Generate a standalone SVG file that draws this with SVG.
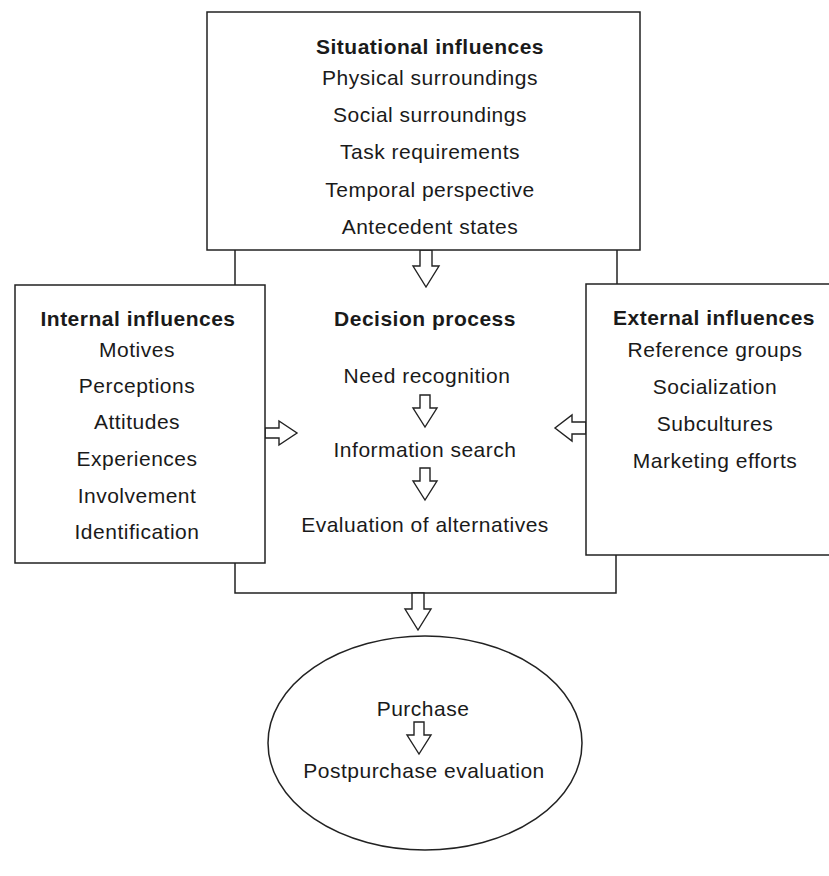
<svg xmlns="http://www.w3.org/2000/svg" width="829" height="876" viewBox="0 0 829 876">
<style>
.box{fill:#fff;stroke:#222;stroke-width:1.5}
.ln{fill:none;stroke:#222;stroke-width:1.5}
.arr{fill:#fff;stroke:#222;stroke-width:1.4;stroke-linejoin:miter}
text{font-family:"Liberation Sans",Arial,sans-serif;fill:#1a1a1a;text-anchor:middle;letter-spacing:0.5px}
.h{font-weight:bold;font-size:21px}
.t{font-size:21px}
</style>
<defs>
<path id="downArrow" d="M-6,0 L6,0 L6,16 L13,16 L0,37 L-13,16 L-6,16 Z"/>
<path id="smallDown" d="M-5,0 L5,0 L5,13 L12,13 L0,32 L-12,13 L-5,13 Z"/>
</defs>
<rect width="829" height="876" fill="#fff"/>
<g id="connectors">
<polyline class="ln" points="235,250 235,285"/>
<polyline class="ln" points="617,250 617,284"/>
<polyline class="ln" points="235,563 235,593 616,593 616,555"/>
<use href="#downArrow" x="426" y="250" class="arr"/>
<path class="arr" d="M265,428 L279,428 L279,421 L297,433 L279,445 L279,438 L265,438 Z"/>
<path class="arr" d="M586,422 L572,422 L572,415 L555,428 L572,441 L572,434 L586,434 Z"/>
<use href="#downArrow" x="418" y="593" class="arr"/>
</g>
<g id="situational">
<rect class="box" x="207" y="12" width="433" height="238"/>
<text class="h" x="430" y="54">Situational influences</text>
<text class="t" x="430" y="85">Physical surroundings</text>
<text class="t" x="430" y="122">Social surroundings</text>
<text class="t" x="430" y="159">Task requirements</text>
<text class="t" x="430" y="197">Temporal perspective</text>
<text class="t" x="430" y="234">Antecedent states</text>
</g>
<g id="internal">
<rect class="box" x="15" y="285" width="250" height="278"/>
<text class="h" x="138" y="326">Internal influences</text>
<text class="t" x="137" y="357">Motives</text>
<text class="t" x="137" y="393">Perceptions</text>
<text class="t" x="137" y="429">Attitudes</text>
<text class="t" x="137" y="466">Experiences</text>
<text class="t" x="137" y="503">Involvement</text>
<text class="t" x="137" y="539">Identification</text>
</g>
<g id="external">
<rect class="box" x="586" y="284" width="250" height="271"/>
<text class="h" x="714" y="325">External influences</text>
<text class="t" x="715" y="357">Reference groups</text>
<text class="t" x="715" y="394">Socialization</text>
<text class="t" x="715" y="431">Subcultures</text>
<text class="t" x="715" y="468">Marketing efforts</text>
</g>
<g id="decision">
<text class="h" x="425" y="326">Decision process</text>
<text class="t" x="427" y="383">Need recognition</text>
<use href="#smallDown" x="425" y="395" class="arr"/>
<text class="t" x="425" y="457">Information search</text>
<use href="#smallDown" x="425" y="468" class="arr"/>
<text class="t" x="425" y="532">Evaluation of alternatives</text>
</g>
<g id="purchase">
<ellipse class="box" cx="425" cy="743" rx="157" ry="107"/>
<text class="t" x="423" y="716">Purchase</text>
<use href="#smallDown" x="419" y="722" class="arr"/>
<text class="t" x="424" y="778">Postpurchase evaluation</text>
</g>
</svg>
